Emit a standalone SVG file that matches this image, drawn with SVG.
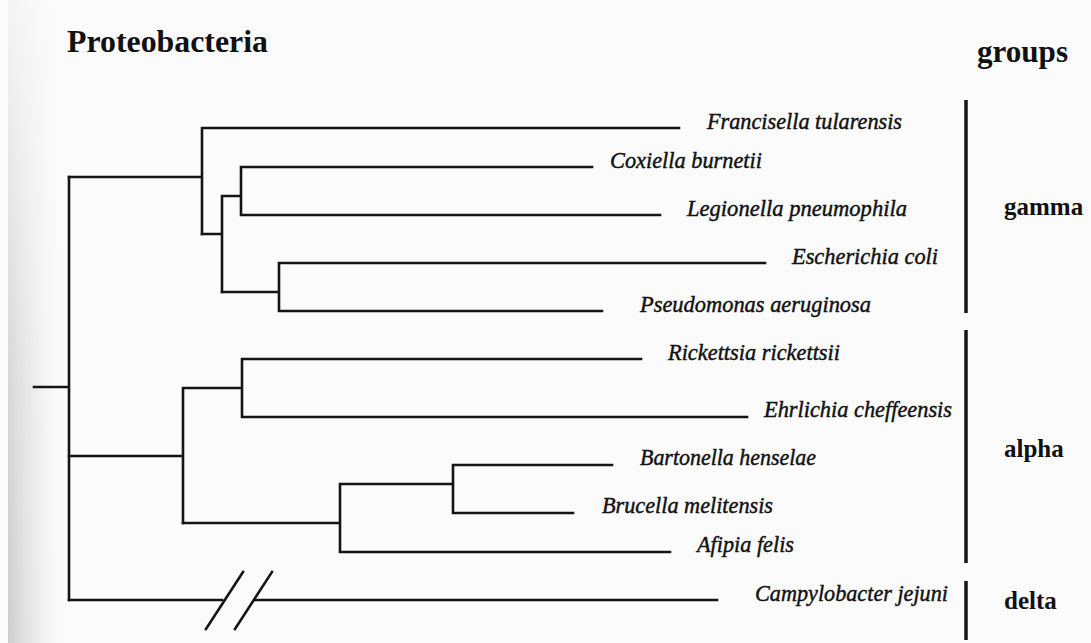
<svg xmlns="http://www.w3.org/2000/svg" width="1091" height="643" viewBox="0 0 1091 643">
<defs>
<linearGradient id="edge" x1="0" y1="0" x2="1" y2="0">
<stop offset="0" stop-color="#cdcdcd" stop-opacity="1"/>
<stop offset="0.5" stop-color="#e4e4e4" stop-opacity="0.6"/>
<stop offset="1" stop-color="#ffffff" stop-opacity="0"/>
</linearGradient>
<linearGradient id="fadeTop" x1="0" y1="0" x2="0" y2="1">
<stop offset="0" stop-color="#fbfbfb" stop-opacity="0.85"/>
<stop offset="0.6" stop-color="#fbfbfb" stop-opacity="0.2"/>
<stop offset="1" stop-color="#fbfbfb" stop-opacity="0"/>
</linearGradient>
</defs>
<style>
.br{stroke:#141414;stroke-width:2.6;fill:none;stroke-linecap:square}
.bar{stroke:#141414;stroke-width:3.5;fill:none}
.sp{font-family:"Liberation Serif","Times New Roman",serif;font-style:italic;font-size:23.5px;fill:#111;stroke:#111;stroke-width:0.45}
.hd{font-family:"Liberation Serif","Times New Roman",serif;font-weight:bold;fill:#111}
</style>
<rect x="0" y="0" width="1091" height="643" fill="#fbfbfb"/>
<rect x="8" y="0" width="62" height="643" fill="url(#edge)"/>
<rect x="8" y="0" width="62" height="643" fill="url(#fadeTop)"/>

<text class="hd" x="67" y="52" font-size="32" textLength="201" lengthAdjust="spacingAndGlyphs">Proteobacteria</text>
<text class="hd" x="977" y="62" font-size="31" textLength="91" lengthAdjust="spacingAndGlyphs">groups</text>

<g id="connectors">
<path class="br" d="M34 387 H69 M69 177 V600"/>
<path class="br" d="M69 177 H202 M202 128 V234 M202 128 H679"/>
<path class="br" d="M202 234 H222 M222 196 V292 M222 196 H241 M241 167 V215 M241 167 H592 M241 215 H660"/>
<path class="br" d="M222 292 H279 M279 263 V311 M279 263 H765 M279 311 H602"/>
<path class="br" d="M69 456 H183 M183 388 V523 M183 388 H242 M242 359 V417 M242 359 H641 M242 417 H747"/>
<path class="br" d="M183 523 H340 M340 484 V552 M340 552 H670 M340 484 H453 M453 465 V513 M453 465 H612 M453 513 H573"/>
<path class="br" d="M69 600 H222 M255 600 H717"/>
<path class="br" d="M206 629 L243 572 M235 629 L272 572" stroke-linecap="round"/>
</g>

<g id="taxa">
<text class="sp" x="707" y="129" textLength="195" lengthAdjust="spacingAndGlyphs">Francisella tularensis</text>
<text class="sp" x="610" y="168" textLength="152" lengthAdjust="spacingAndGlyphs">Coxiella burnetii</text>
<text class="sp" x="687" y="216" textLength="220" lengthAdjust="spacingAndGlyphs">Legionella pneumophila</text>
<text class="sp" x="792" y="264" textLength="146" lengthAdjust="spacingAndGlyphs">Escherichia coli</text>
<text class="sp" x="640" y="312" textLength="231" lengthAdjust="spacingAndGlyphs">Pseudomonas aeruginosa</text>
<text class="sp" x="668" y="360" textLength="172" lengthAdjust="spacingAndGlyphs">Rickettsia rickettsii</text>
<text class="sp" x="764" y="417" textLength="188" lengthAdjust="spacingAndGlyphs">Ehrlichia cheffeensis</text>
<text class="sp" x="640" y="465" textLength="176" lengthAdjust="spacingAndGlyphs">Bartonella henselae</text>
<text class="sp" x="602" y="513" textLength="171" lengthAdjust="spacingAndGlyphs">Brucella melitensis</text>
<text class="sp" x="697" y="552" textLength="97" lengthAdjust="spacingAndGlyphs">Afipia felis</text>
<text class="sp" x="755" y="601" textLength="193" lengthAdjust="spacingAndGlyphs">Campylobacter jejuni</text>
</g>

<g id="group-gamma">
<line class="bar" x1="966" y1="100" x2="966" y2="313"/>
<text class="hd" x="1004" y="215" font-size="25">gamma</text>
</g>
<g id="group-alpha">
<line class="bar" x1="966" y1="330" x2="966" y2="563"/>
<text class="hd" x="1004" y="457" font-size="25">alpha</text>
</g>
<g id="group-delta">
<line class="bar" x1="966" y1="581" x2="966" y2="640"/>
<text class="hd" x="1004" y="609" font-size="25">delta</text>
</g>
</svg>
